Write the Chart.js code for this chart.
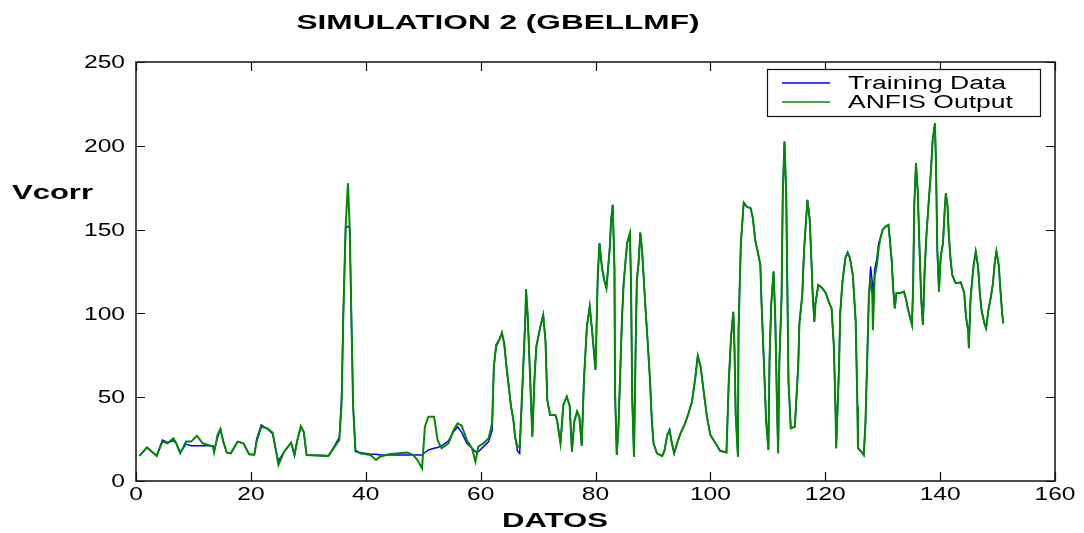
<!DOCTYPE html>
<html><head><meta charset="utf-8">
<script src="https://cdn.jsdelivr.net/npm/chart.js@4.4.0/dist/chart.umd.min.js"></script>
<style>html,body{margin:0;padding:0;background:#fff;}canvas{display:block;}</style>
</head><body>
<canvas id="c" width="1084" height="533"></canvas>
<script>
// x positions (DATOS) of the plotted vertices
const datos = [
0.6,1.9,3.6,4.6,5.5,6.5,7.0,7.7,8.7,9.6,
10.6,11.6,13.4,13.6,14.2,14.7,15.2,15.8,16.5,17.7,
18.7,19.7,20.6,21.0,21.8,22.9,23.8,24.4,24.8,25.8,
27.0,27.6,28.1,28.7,29.2,29.7,33.5,34.4,35.4,35.8,
36.1,36.5,36.9,37.2,37.5,37.8,38.2,39.0,40.8,41.8,
42.5,44.0,47.2,48.3,49.0,49.8,50.3,50.9,51.9,52.5,
53.2,54.4,55.3,56.0,56.7,57.6,58.5,59.1,59.6,60.5,
61.4,62.0,62.3,62.7,63.3,63.7,64.1,64.5,64.9,65.3,
65.7,66.0,66.4,66.8,67.4,67.8,67.9,68.2,68.6,69.0,
69.4,69.7,70.4,70.9,71.3,71.6,72.1,73.0,73.3,73.9,
74.4,75.0,75.5,75.9,76.3,76.8,77.2,77.6,78.0,78.5,
79.0,79.4,80.0,80.4,80.7,81.1,81.5,81.9,82.1,82.5,
82.7,83.0,83.3,83.4,83.7,84.0,84.3,84.6,84.9,85.2,
85.5,86.0,86.2,86.4,86.7,87.0,87.2,87.5,87.8,88.1,
88.4,88.7,89.1,89.5,89.8,90.1,90.7,91.6,92.0,92.5,
92.9,93.3,93.7,94.2,94.8,95.6,96.2,96.8,97.4,97.8,
98.3,98.8,99.4,100.0,100.9,101.7,102.8,103.2,103.6,104.0,
104.2,104.4,104.8,104.9,105.3,105.8,106.4,107.0,107.4,107.8,
108.3,108.7,108.9,109.3,109.7,110.1,110.3,110.6,111.0,111.3,
111.6,111.8,112.0,112.4,112.6,112.9,113.2,113.4,113.6,114.0,
114.7,114.9,115.3,115.5,116.0,116.3,116.7,116.9,117.3,117.6,
117.8,118.1,118.3,118.8,119.5,120.1,120.6,121.1,121.5,121.8,
121.9,122.4,122.6,123.0,123.5,123.9,124.3,124.8,125.3,125.6,
125.7,126.3,126.7,127.0,127.3,127.6,127.9,128.2,128.3,128.6,
129.0,129.3,129.6,130.0,130.5,131.0,131.2,131.6,131.8,132.1,
132.4,133.0,133.7,134.1,134.4,135.1,135.3,135.5,135.8,136.1,
136.4,136.7,137.0,137.3,137.6,138.0,138.4,138.7,139.1,139.3,
139.5,139.8,140.1,140.5,140.8,141.0,141.3,141.5,141.8,142.1,
142.7,143.6,144.2,144.5,144.9,145.0,145.3,145.8,146.2,146.6,
146.9,147.2,147.7,148.0,148.4,148.8,149.2,149.5,149.8,150.2,
150.5,150.8,151.0
];
const anfisOutput = [
15,20,15,23.5,22.5,25.5,22.5,16.5,23.5,23.5,
27,22.5,20.5,17,27.5,31,23.5,17,16.5,23.5,
22.5,16,15.7,23.5,32.4,31.4,28.8,17.5,9.6,17.5,
22.9,16,24.5,32.8,29.4,15.5,15,19.5,24.5,46.4,
100,151.8,177.7,151.8,98,44.4,18.5,16.5,15.5,12.5,
14.5,16,17,15.5,12.5,7.6,32.4,38.4,38.4,24.5,
19.5,22.5,30.4,34.4,33,24.5,19.5,11.5,20.5,22.5,
25.5,34.4,68.2,81.2,84.6,88.5,82.2,68.2,56.3,44.4,
36.4,26.4,20.5,20.5,66.3,98.5,114.4,98.5,63.3,26.4,
63,80.2,92.1,99.1,83.2,48.4,39.4,39.4,36.4,22.5,
45.4,50.3,45,17.5,35.4,41.4,38,21,61.3,92.1,
104.1,90,66.3,123,141.9,128,120,115,123,139.9,
154.8,164.8,127,53.3,15.5,32.4,64.3,96.1,118,130,
141.9,147.9,114,48.4,14.5,82.2,120,130,148.2,137.9,
121,103.1,82.2,59.3,36.4,22.5,16.5,14.9,18,27.5,
30.4,22.5,16.5,22.5,28.4,34.4,40.4,47.3,62.3,74.6,
68.2,54.3,38.4,27.5,22.5,18,17,59.3,86.1,101,
79.2,40.4,14.5,90,140.9,166.1,163.5,162.8,156.8,143.9,
135.9,129,107,72.2,36.4,18.5,72.2,106.1,125,97.1,
44.4,16.5,70.3,110,170.7,202.6,171.8,116,59.3,31.4,
32.4,44.4,69.3,94.1,111,136.9,157.8,167.8,155.8,131,
112.1,95.1,106.1,117,115,112.1,107,103,80.2,40.4,
19.5,68.2,100,119,133,136.3,133,123,95.1,44.4,
19.5,17.5,15.5,34.4,72.2,111,121,110,90,122,
129,139,144.9,149.9,151.8,152.8,145.9,130,116,103,
112.1,112.1,113,108,102.5,93.1,117,164.8,189.7,172.7,
139.9,109,93.1,125,145.9,165.8,184.7,203.6,213.5,185.7,
139,113,134,141.9,161.8,171.8,163.8,147.9,133,123,
118,118.5,112.1,98,89.1,79.2,109,128,136.9,128,
113,102,94.1,91.1,102,109,118,130,136.9,129,
114,100,94.1
];
const trainingData = [
15,20,15,24.5,23,24,22.5,17,22,21,
21,21,21,18,26,31,23.5,17,16.5,23.5,
22.5,16,15.7,25,33.5,31,28,17.5,12,17.5,
22.9,15,24.5,32,29.4,15.5,15,20,26,50,
100,151,152,151,98,46,17.5,17,16,16,
15.5,15.5,15.5,15.5,15.5,15.5,17,18.5,19.5,20,
21,24,29.4,32.4,29,22.5,19.5,17.5,17.5,20.5,
23.5,30,68.2,80,84.6,88.5,82.2,68.2,56.3,44.4,
36.4,26.4,18,16.5,66.3,98.5,114.4,98.5,63.3,26.4,
63,80.2,92.1,99.1,83.2,48.4,39.4,39.4,36.4,22.5,
45.4,50.3,45,17.5,35.4,41.4,38,21,61.3,92.1,
104.1,90,66.3,123,141.9,128,120,115,123,139.9,
154.8,164.8,127,53.3,15.5,32.4,64.3,96.1,118,130,
141.9,147.9,114,48.4,14.5,82.2,120,130,148.2,137.9,
121,103.1,82.2,59.3,36.4,22.5,16.5,14.9,18,27.5,
30.4,22.5,16.5,22.5,28.4,34.4,40.4,47.3,62.3,74.6,
68.2,54.3,38.4,27.5,22.5,18,17,59.3,86.1,101,
79.2,40.4,14.5,90,140.9,166.1,163.5,162.8,156.8,143.9,
135.9,129,107,72.2,36.4,18.5,72.2,106.1,125,97.1,
44.4,16.5,70.3,110,170.7,202.6,171.8,116,59.3,31.4,
32.4,44.4,69.3,94.1,111,136.9,157.8,167.8,155.8,131,
112.1,95.1,106.1,117,115,112.1,107,103,80.2,40.4,
19.5,68.2,100,119,133,136.3,133,123,95.1,44.4,
19.5,17.5,15.5,34.4,72.2,111,128,118,100,126,
133,142,144.9,149.9,151.8,152.8,145.9,130,116,103,
112.1,112.1,113,108,102.5,93.1,117,164.8,189.7,172.7,
139.9,109,93.1,125,145.9,165.8,184.7,203.6,213.5,185.7,
139,113,134,141.9,161.8,171.8,163.8,147.9,133,123,
118,118.5,112.1,98,89.1,79.2,109,128,136.9,128,
113,102,94.1,91.1,102,109,118,130,136.9,129,
114,100,94.1
];
const xTicks = [0,20,40,60,80,100,120,140,160];
const yTicks = [0,50,100,150,200,250];
const xTickLabels = ['0','20','40','60','80','100','120','140','160'];
const yTickLabels = ['0','50','100','150','200','250'];
const titleText = 'SIMULATION 2 (GBELLMF)';
const xLabel = 'DATOS';
const yLabel = 'Vcorr';
const seriesNames = ['Training Data','ANFIS Output'];

const FONT = '"Liberation Sans", Arial, sans-serif';
const BLUE = '#0000ff', GREEN = '#008a00';

// draw text horizontally stretched (the reference figure is widened)
function sText(ctx, text, x, y, align, sx) {
  const w = ctx.measureText(text).width * sx;
  let left = x;
  if (align === 'center') left = x - w / 2;
  else if (align === 'right') left = x - w;
  ctx.save();
  ctx.translate(left, y);
  ctx.scale(sx, 1);
  ctx.textAlign = 'left';
  ctx.fillText(text, 0, 0);
  ctx.restore();
}
function fitScale(ctx, text, target) { return target / ctx.measureText(text).width; }

const decor = {
  id: 'decor',
  afterDatasetsDraw(chart) {
    const {ctx, chartArea: a, scales: {x, y}} = chart;
    ctx.save();
    ctx.strokeStyle = '#111';
    ctx.lineWidth = 1.5;
    ctx.strokeRect(a.left, a.top, a.right - a.left, a.bottom - a.top);
    const L = 9;
    ctx.beginPath();
    xTicks.forEach(v => {
      const p = Math.round(x.getPixelForValue(v)) + 0.5;
      ctx.moveTo(p, a.bottom); ctx.lineTo(p, a.bottom - L);
      ctx.moveTo(p, a.top); ctx.lineTo(p, a.top + L);
    });
    yTicks.forEach(v => {
      const p = Math.round(y.getPixelForValue(v)) + 0.5;
      ctx.moveTo(a.left, p); ctx.lineTo(a.left + L, p);
      ctx.moveTo(a.right, p); ctx.lineTo(a.right - L, p);
    });
    ctx.lineWidth = 1.2;
    ctx.stroke();

    // tick labels
    ctx.fillStyle = '#000';
    ctx.textBaseline = 'middle';
    ctx.font = '19px ' + FONT;
    const tsx = fitScale(ctx, '250', 41);
    yTicks.forEach((v, i) => sText(ctx, yTickLabels[i], a.left - 11, y.getPixelForValue(v) + 1, 'right', tsx));
    xTicks.forEach((v, i) => sText(ctx, xTickLabels[i], x.getPixelForValue(v), a.bottom + 14, 'center', tsx));

    // legend box
    const bx = a.right - 288, by = a.top + 7, bw = 273, bh = 47;
    ctx.fillStyle = '#fff';
    ctx.fillRect(bx, by, bw, bh);
    ctx.lineWidth = 1.2;
    ctx.strokeStyle = '#111';
    ctx.strokeRect(bx + 0.5, by + 0.5, bw, bh);
    const ds = chart.data.datasets;
    ctx.font = '18px ' + FONT;
    ctx.textBaseline = 'middle';
    const lsx = fitScale(ctx, ds[0].label, 158);
    ds.forEach((d, i) => {
      const ly = by + 14 + i * 19;
      ctx.beginPath();
      ctx.strokeStyle = d.borderColor;
      ctx.lineWidth = i === 0 ? 1.3 : 1.6;
      ctx.moveTo(bx + 15, ly); ctx.lineTo(bx + 63, ly);
      ctx.stroke();
      ctx.fillStyle = '#000';
      sText(ctx, d.label, bx + 81, ly + 1, 'left', lsx);
    });
    ctx.restore();
  },
  afterDraw(chart) {
    const {ctx} = chart;
    ctx.save();
    ctx.fillStyle = '#000';
    ctx.textBaseline = 'middle';
    ctx.font = 'bold 20px ' + FONT;
    sText(ctx, titleText, 498, 23, 'center', fitScale(ctx, titleText, 403));
    sText(ctx, xLabel, 555, 521, 'center', fitScale(ctx, xLabel, 106));
    sText(ctx, yLabel, 12, 193, 'left', fitScale(ctx, yLabel, 81));
    ctx.restore();
  }
};

new Chart(document.getElementById('c'), {
  type: 'line',
  data: {
    datasets: [
      {label: seriesNames[0], data: datos.map((v, i) => ({x: v, y: trainingData[i]})),
       borderColor: BLUE, borderWidth: 1.5, pointRadius: 0, tension: 0, fill: false, order: 2},
      {label: seriesNames[1], data: datos.map((v, i) => ({x: v, y: anfisOutput[i]})),
       borderColor: GREEN, borderWidth: 2, pointRadius: 0, tension: 0, fill: false, order: 1}
    ]
  },
  options: {
    responsive: false,
    animation: false,
    devicePixelRatio: 1,
    layout: {padding: {left: 0, right: 29, top: 62, bottom: 0}},
    plugins: {legend: {display: false}, title: {display: false}, tooltip: {enabled: false}},
    scales: {
      x: {
        type: 'linear', min: 0, max: 160,
        afterBuildTicks: s => { s.ticks = xTicks.map(v => ({value: v})); },
        afterFit: s => { s.height = 52; },
        grid: {display: false},
        border: {display: false},
        ticks: {display: false}
      },
      y: {
        type: 'linear', min: 0, max: 250,
        afterBuildTicks: s => { s.ticks = yTicks.map(v => ({value: v})); },
        afterFit: s => { s.width = 136; },
        grid: {display: false},
        border: {display: false},
        ticks: {display: false}
      }
    }
  },
  plugins: [decor]
});
</script>
</body></html>
